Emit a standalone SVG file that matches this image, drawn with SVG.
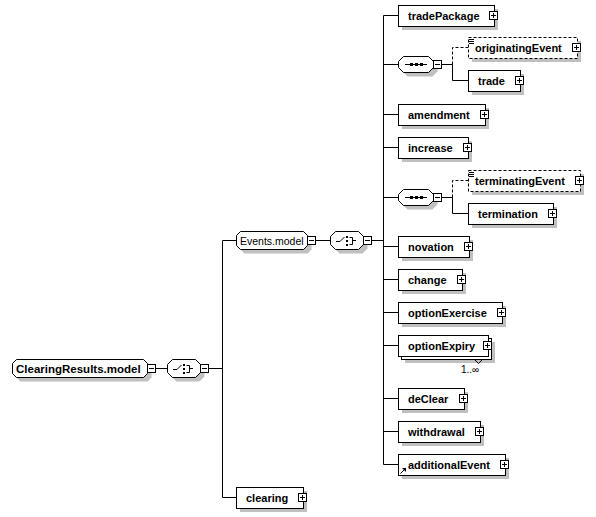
<svg xmlns="http://www.w3.org/2000/svg" xmlns:xlink="http://www.w3.org/1999/xlink" width="596" height="517" viewBox="0 0 596 517">
<style>
.bg{fill:#ffffff}
.sh{fill:#c0c0c0;stroke:none}
.box{fill:#ffffff;stroke:#000000;stroke-width:1}
.opt{fill:#ffffff;stroke:#000000;stroke-width:1;stroke-dasharray:3 2}
.ln{fill:none;stroke:#000000;stroke-width:1}
.dl{fill:none;stroke:#000000;stroke-width:1;stroke-dasharray:3 2}
.el{font-family:"Liberation Sans",Arial,sans-serif;font-size:11px;font-weight:bold;fill:#000000}
.grp{font-family:"Liberation Sans",Arial,sans-serif;font-size:10.5px;fill:#000000}
.card{font-family:"Liberation Sans",Arial,sans-serif;font-size:10px;fill:#000000}
</style>
<defs>
<g id="plus"><rect x="0.5" y="0.5" width="8" height="8" fill="#ffffff" stroke="#000000"/><path d="M2,4.5H7M4.5,2V7" stroke="#000000" fill="none"/></g>
<g id="minus"><rect x="0.5" y="0.5" width="8" height="8" fill="#ffffff" stroke="#000000"/><path d="M2,4.5H7" stroke="#000000" fill="none"/></g>
<path id="seqShape" d="M5.5,0.5H30.5L35.5,5.5V11.5L30.5,16.5H5.5L0.5,11.5V5.5Z"/>
<path id="chShape" d="M5.5,0.5H28.5L33.5,5.5V13.5L28.5,18.5H5.5L0.5,13.5V5.5Z"/>
<g id="seqC">
<use xlink:href="#seqShape" class="sh" transform="translate(4,4)"/>
<use xlink:href="#seqShape" class="box"/>
<path d="M7,8.5H29" stroke="#000000" fill="none"/>
<rect x="12" y="7" width="3" height="3" fill="#000000"/>
<rect x="17" y="7" width="3" height="3" fill="#000000"/>
<rect x="22" y="7" width="3" height="3" fill="#000000"/>
</g>
<g id="chC">
<use xlink:href="#chShape" class="sh" transform="translate(4,4)"/>
<use xlink:href="#chShape" class="box"/>
<path d="M6,10.5H10L14.5,6" stroke="#000000" fill="none"/>
<rect x="16" y="5" width="2" height="2" fill="#000000"/>
<rect x="16" y="9" width="2" height="2" fill="#000000"/>
<rect x="16" y="13" width="2" height="2" fill="#000000"/>
<path d="M19.5,6.5H22.5V13.5H19.5M22.5,9.5H26" stroke="#000000" fill="none"/>
</g>
<g id="docIcon"><path d="M0,0.5H5M0,2.5H5M0,4.5H5" stroke="#000000" fill="none"/></g>
</defs>
<rect class="bg" x="0" y="0" width="596" height="517"/>

<g id="connectors">
<path class="ln" d="M156,368.5H167M209,368.5H222.5M222.5,240.5V497.5M222.5,240.5H236M222.5,497.5H236"/>
<path class="ln" d="M316,240.5H330M372,240.5H383.5M383.5,15.5V464.5"/>
<path class="ln" d="M383.5,15.5H398M383.5,64.5H398M383.5,114.5H398M383.5,147.5H398M383.5,197.5H398M383.5,246.5H398M383.5,279.5H398M383.5,312.5H398M383.5,345.5H398M383.5,398.5H398M383.5,431.5H398M383.5,464.5H398"/>
<path class="ln" d="M442,64.5H452.5M452.5,64.5V80.5H468"/>
<path class="dl" d="M452.5,64.5V47.5H468"/>
<path class="ln" d="M442,197.5H452.5M452.5,197.5V213.5H468"/>
<path class="dl" d="M452.5,197.5V180.5H468"/>
</g>

<g id="ClearingResults.model">
<path class="sh" transform="translate(4,4)" d="M16.5,359.5H143.5L147.5,363.5V373.5L143.5,377.5H16.5L12.5,373.5V363.5Z"/>
<path class="box" d="M16.5,359.5H143.5L147.5,363.5V373.5L143.5,377.5H16.5L12.5,373.5V363.5Z"/>
<text class="el" x="16" y="372.5" style="font-size:11.5px">ClearingResults.model</text>
<use xlink:href="#minus" x="147" y="364"/>
</g>
<g id="choice1">
<use xlink:href="#chC" x="167" y="359"/>
<use xlink:href="#minus" x="200" y="364"/>
</g>

<g id="Events.model">
<path class="sh" transform="translate(4,4)" d="M240.5,231.5H303.5L307.5,235.5V245.5L303.5,249.5H240.5L236.5,245.5V235.5Z"/>
<path class="box" d="M240.5,231.5H303.5L307.5,235.5V245.5L303.5,249.5H240.5L236.5,245.5V235.5Z"/>
<text class="grp" x="240" y="244.5">Events.model</text>
<use xlink:href="#minus" x="307" y="236"/>
</g>
<g id="choice2">
<use xlink:href="#chC" x="330" y="231"/>
<use xlink:href="#minus" x="363" y="236"/>
</g>

<g id="sequence1">
<use xlink:href="#seqC" x="398" y="56"/>
<use xlink:href="#minus" x="433" y="60"/>
</g>
<g id="sequence2">
<use xlink:href="#seqC" x="398" y="189"/>
<use xlink:href="#minus" x="433" y="193"/>
</g>

<g id="tradePackage">
<rect class="sh" x="402" y="9" width="96" height="21"/>
<rect class="box" x="398.5" y="5.5" width="96" height="21"/>
<text class="el" x="408" y="19.5">tradePackage</text>
<use xlink:href="#plus" x="489" y="11"/>
</g>
<g id="originatingEvent">
<rect class="sh" x="472" y="41" width="109" height="21"/>
<rect class="opt" x="468.5" y="37.5" width="109" height="21"/>
<use xlink:href="#docIcon" x="469" y="39"/>
<text class="el" x="475" y="51.5">originatingEvent</text>
<use xlink:href="#plus" x="572" y="43"/>
</g>
<g id="trade">
<rect class="sh" x="472" y="74" width="52" height="21"/>
<rect class="box" x="468.5" y="70.5" width="52" height="21"/>
<text class="el" x="478" y="84.5">trade</text>
<use xlink:href="#plus" x="515" y="76"/>
</g>
<g id="amendment">
<rect class="sh" x="402" y="108" width="87" height="21"/>
<rect class="box" x="398.5" y="104.5" width="87" height="21"/>
<text class="el" x="408" y="118.5">amendment</text>
<use xlink:href="#plus" x="480" y="110"/>
</g>
<g id="increase">
<rect class="sh" x="402" y="141" width="70" height="21"/>
<rect class="box" x="398.5" y="137.5" width="70" height="21"/>
<text class="el" x="408" y="151.5">increase</text>
<use xlink:href="#plus" x="463" y="143"/>
</g>
<g id="terminatingEvent">
<rect class="sh" x="472" y="174" width="112" height="21"/>
<rect class="opt" x="468.5" y="170.5" width="112" height="21"/>
<use xlink:href="#docIcon" x="469" y="172"/>
<text class="el" x="475" y="184.5">terminatingEvent</text>
<use xlink:href="#plus" x="575" y="176"/>
</g>
<g id="termination">
<rect class="sh" x="472" y="207" width="85" height="21"/>
<rect class="box" x="468.5" y="203.5" width="85" height="21"/>
<text class="el" x="478" y="217.5">termination</text>
<use xlink:href="#plus" x="548" y="209"/>
</g>
<g id="novation">
<rect class="sh" x="402" y="240" width="71" height="21"/>
<rect class="box" x="398.5" y="236.5" width="71" height="21"/>
<text class="el" x="408" y="250.5">novation</text>
<use xlink:href="#plus" x="464" y="242"/>
</g>
<g id="change">
<rect class="sh" x="402" y="273" width="64" height="21"/>
<rect class="box" x="398.5" y="269.5" width="64" height="21"/>
<text class="el" x="408" y="283.5">change</text>
<use xlink:href="#plus" x="457" y="275"/>
</g>
<g id="optionExercise">
<rect class="sh" x="402" y="306" width="104" height="21"/>
<rect class="box" x="398.5" y="302.5" width="104" height="21"/>
<text class="el" x="408" y="316.5">optionExercise</text>
<use xlink:href="#plus" x="497" y="308"/>
</g>
<g id="optionExpiry">
<rect class="sh" x="405" y="342" width="90" height="21"/>
<rect class="box" x="401.5" y="338.5" width="90" height="21"/>
<rect class="box" x="398.5" y="335.5" width="90" height="21"/>
<text class="el" x="408" y="349.5">optionExpiry</text>
<use xlink:href="#plus" x="483" y="341"/>
<path class="ln" d="M474.5,359.5L478.5,363.5L482.5,359.5"/>
<text class="card" x="461" y="373">1..∞</text>
</g>
<g id="deClear">
<rect class="sh" x="402" y="392" width="66" height="21"/>
<rect class="box" x="398.5" y="388.5" width="66" height="21"/>
<text class="el" x="408" y="402.5">deClear</text>
<use xlink:href="#plus" x="459" y="394"/>
</g>
<g id="withdrawal">
<rect class="sh" x="402" y="425" width="82" height="21"/>
<rect class="box" x="398.5" y="421.5" width="82" height="21"/>
<text class="el" x="408" y="435.5">withdrawal</text>
<use xlink:href="#plus" x="475" y="427"/>
</g>
<g id="additionalEvent">
<rect class="sh" x="402" y="458" width="107" height="21"/>
<rect class="box" x="398.5" y="454.5" width="107" height="21"/>
<path d="M400.5,473.5L404,470" stroke="#000000" fill="none"/>
<polygon points="402,468 406,468 406,472" fill="#000000"/>
<text class="el" x="408" y="468.5">additionalEvent</text>
<use xlink:href="#plus" x="500" y="460"/>
</g>
<g id="clearing">
<rect class="sh" x="240" y="491" width="67" height="21"/>
<rect class="box" x="236.5" y="487.5" width="67" height="21"/>
<text class="el" x="246" y="501.5">clearing</text>
<use xlink:href="#plus" x="298" y="493"/>
</g>
</svg>
